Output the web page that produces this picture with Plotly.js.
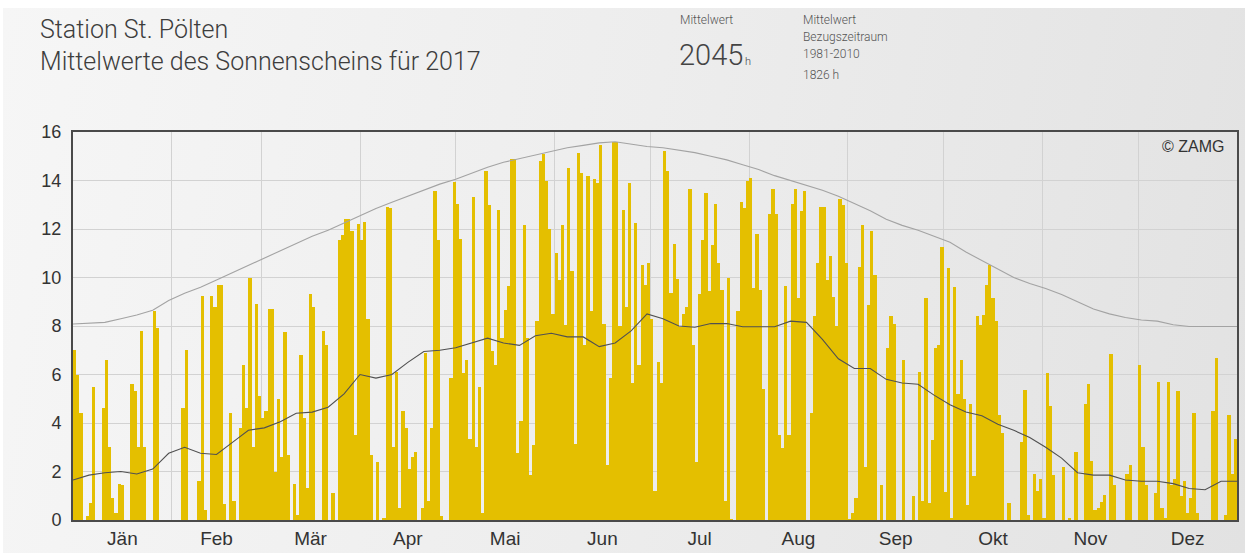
<!DOCTYPE html>
<html><head><meta charset="utf-8">
<script src="https://cdn.plot.ly/plotly-3.0.1.min.js"></script>
<style>
html,body{margin:0;padding:0;background:#fff;}
#wrap{position:absolute;left:0;top:0;width:1252px;height:553px;overflow:hidden;}
#bg{position:absolute;left:3px;top:8px;width:1242px;height:545px;background:linear-gradient(100deg,#f6f6f6 0%,#ededed 50%,#e2e2e2 100%);}
#chart{position:absolute;left:0;top:0;width:1252px;height:553px;}
#chart .trace.bars path{shape-rendering:crispEdges !important;}
</style></head><body>
<div id="wrap"><div id="bg"></div><div id="chart"></div></div>
<script>
const monthLabels = ['Jän','Feb','Mär','Apr','Mai','Jun','Jul','Aug','Sep','Okt','Nov','Dez'];
const monthLengths = [31,28,31,30,31,30,31,31,30,31,30,31];

const sunJan = [7.0,6.0,4.4,0,0.15,0.7,5.5,0,0,4.6,6.6,3.0,0.9,0.3,1.5,1.45,0,0,5.6,5.3,3.0,7.8,3.0,0,0,8.6,7.9,0,0,0,0];
const sunFeb = [0,0,0,4.6,7.0,0,0,0,1.6,9.25,0.4,0,9.25,8.8,9.7,9.7,0.65,0,4.4,0.8,0,3.8,6.4,4.6,10.0,3.0,8.9,5.1];
const sunMar = [4.2,4.5,8.7,8.7,2.0,5.0,2.6,7.75,2.7,0,1.5,0.2,6.8,4.2,1.3,9.3,8.8,0,0,7.8,7.2,0,1.1,0,11.55,11.75,12.4,12.4,11.9,3.5,12.2];
const sunApr = [11.55,12.3,8.3,2.7,0,2.4,0,0.1,12.9,12.85,3.0,6.1,0.5,4.5,3.8,2.1,2.6,2.8,0,0.5,6.9,0.8,3.8,13.55,11.55,0.15,0,0,5.85,13.95];
const sunMai = [13.05,11.6,6.05,6.6,3.35,13.3,3.0,5.5,0.3,14.4,13.0,6.95,6.4,12.8,7.5,8.65,9.65,14.9,14.9,2.75,4.1,12.15,7.5,1.85,3.1,8.2,14.8,15.1,14.0,12.0,8.5];
const sunJun = [11.0,9.9,12.15,8.05,14.5,10.25,3.15,15.15,14.3,7.2,14.2,8.6,14.05,13.9,15.45,8.1,2.25,5.85,15.6,15.6,8.0,12.8,8.8,13.9,5.65,12.25,6.4,10.5,9.7,10.6];
const sunJul = [8.3,1.2,6.5,5.65,15.2,14.4,9.35,11.4,9.95,7.95,8.5,8.8,13.65,7.2,2.4,9.3,11.55,13.5,9.45,11.35,13.05,10.6,9.5,0.8,10.0,0.05,0,8.6,13.1,12.85,14.0];
const sunAug = [14.1,9.55,11.8,9.5,5.4,0,12.6,13.65,12.6,3.5,2.95,9.65,3.5,13.05,13.65,9.15,12.75,13.55,0,4.4,8.4,10.6,12.9,12.9,9.9,10.9,9.2,8.0,13.25,13.0,10.6];
const sunSep = [0.05,0.3,0.9,10.45,12.15,2.2,8.85,11.9,10.1,0,1.45,0,7.1,8.4,8.1,0,0,6.6,0,0,1.0,0,6.1,0.8,9.15,0.7,3.3,7.1,7.2,11.25];
const sunOkt = [1.15,10.4,0.1,9.6,5.2,6.6,5.0,0.6,4.8,1.8,8.4,8.05,8.45,9.7,10.5,9.15,8.2,4.35,3.6,0,0.7,0,0,0,3.2,5.35,0.2,0,1.9,1.2,1.7];
const sunNov = [0.1,6.05,4.7,1.85,0,0,2.2,0,0.1,0,2.8,0,0,4.8,5.6,2.45,0.4,0.5,0.75,1.05,0,6.85,1.45,0,0,0,1.9,2.25,0,0];
const sunDez = [6.4,3.0,1.45,0,0,1.1,5.7,0.5,0.1,5.7,1.45,1.7,5.3,1.0,1.6,0.3,0.9,4.4,0.3,0,0,0,0,4.5,6.7,0,0,0.2,4.35,1.9,3.35];

// reference curves, read every 5 days (day-of-year position)
const refDays = [0,5,10,15,20,25,30,35,40,45,50,55,60,65,70,75,80,85,90,95,100,105,110,115,120,125,130,135,140,145,150,155,160,165,170,175,180,185,190,195,200,205,210,215,220,225,230,235,240,245,250,255,260,265,270,275,280,285,290,295,300,305,310,315,320,325,330,335,340,345,350,355,360,365];
const possibleHours = [8.08,8.1,8.15,8.3,8.45,8.65,9.05,9.35,9.6,9.9,10.2,10.5,10.8,11.1,11.4,11.7,11.95,12.25,12.55,12.85,13.1,13.35,13.6,13.85,14.05,14.3,14.55,14.75,14.9,15.05,15.2,15.35,15.45,15.55,15.6,15.5,15.4,15.35,15.25,15.15,15.0,14.85,14.65,14.45,14.2,14.0,13.8,13.6,13.35,13.05,12.75,12.4,12.15,11.95,11.7,11.45,11.05,10.7,10.35,10.0,9.75,9.55,9.3,9.0,8.7,8.5,8.35,8.25,8.2,8.05,7.98,7.98,7.98,7.98];
const meanHours = [1.65,1.85,1.95,2.0,1.9,2.1,2.75,3.0,2.75,2.7,3.2,3.7,3.8,4.05,4.4,4.45,4.65,5.2,6.0,5.85,6.0,6.5,6.95,7.0,7.1,7.3,7.5,7.3,7.2,7.6,7.7,7.55,7.55,7.15,7.3,7.8,8.5,8.3,8.0,7.95,8.1,8.1,7.97,7.97,7.97,8.2,8.15,7.45,6.65,6.25,6.25,5.8,5.65,5.6,5.15,4.75,4.45,4.3,3.95,3.7,3.4,3.0,2.55,1.95,1.85,1.85,1.65,1.6,1.6,1.5,1.3,1.25,1.6,1.6];

const yTicks = [0,2,4,6,8,10,12,14,16];

const sunshine = [].concat(sunJan,sunFeb,sunMar,sunApr,sunMai,sunJun,sunJul,sunAug,sunSep,sunOkt,sunNov,sunDez);
const dayX = sunshine.map((v,i)=>i+0.5);
const monthStarts = [0];
monthLengths.forEach((n,i)=>monthStarts.push(monthStarts[i]+n));
const monthMid = monthLengths.map((n,i)=>monthStarts[i]+n/2);

const L=73,R=1237,T=132,B=520;
const fx = px => (px-L)/(R-L);
const fy = py => (B-py)/(B-T);

const txtFont = 'Roboto, "Noto Sans", sans-serif';
function ann(text,x,y,size,color,opts){
  return Object.assign({text:text,xref:'paper',yref:'paper',x:fx(x),y:fy(y),xanchor:'left',yanchor:'middle',showarrow:false,
    font:{family:txtFont,size:size,color:color,weight:300}},opts||{});
}

const barColor = '#e4bf00';
const traces = [
  {type:'bar',x:dayX,y:sunshine,width:1,marker:{color:barColor,line:{width:0}},hoverinfo:'skip'},
  {type:'scatter',mode:'lines',x:refDays,y:possibleHours,line:{color:'#a3a3a3',width:1.1},hoverinfo:'skip'},
  {type:'scatter',mode:'lines',x:refDays,y:meanHours,line:{color:'#505050',width:1.1},hoverinfo:'skip'}
];

const layout = {
  width:1252,height:553,
  margin:{l:L,r:1252-R,t:T,b:553-B,pad:0,autoexpand:false},
  paper_bgcolor:'rgba(0,0,0,0)',plot_bgcolor:'rgba(0,0,0,0)',
  showlegend:false,bargap:0,hovermode:false,
  xaxis:{range:[0,365],tickmode:'array',tickvals:monthMid,ticktext:monthLabels,showgrid:false,ticks:'',
    showline:true,mirror:true,linecolor:'#4a4a4a',linewidth:2,zeroline:false,
    tickfont:{family:'Arial, "Liberation Sans", sans-serif',size:19,color:'#333'},
    minor:{tickmode:'array',tickvals:monthStarts,showgrid:true,gridcolor:'#d2d2d2',gridwidth:1,ticks:''},fixedrange:true},
  yaxis:{range:[0,16],tickmode:'array',tickvals:yTicks,showgrid:true,gridcolor:'#d2d2d2',gridwidth:1,zeroline:false,
    showline:true,mirror:true,linecolor:'#4a4a4a',linewidth:2,ticks:'',ticklabelstandoff:6,
    tickfont:{family:'Arial, "Liberation Sans", sans-serif',size:18,color:'#333'},fixedrange:true},
  annotations:[
    ann('Station St. Pölten',38,29,25,'#3d3d3d'),
    ann('Mittelwerte des Sonnenscheins für 2017',38,61,25,'#3d3d3d'),
    ann('Mittelwert',678,20,12,'#555'),
    ann('2045',677,55,29,'#444'),
    ann('h',743,61,11,'#444'),
    ann('Mittelwert',801,20,12,'#555'),
    ann('Bezugszeitraum',801,37,12,'#555'),
    ann('1981-2010',801,54,12,'#555'),
    ann('1826 h',801,75,12,'#555'),
    {text:'© ZAMG',xref:'paper',yref:'paper',x:fx(1226),y:fy(146),xanchor:'right',yanchor:'middle',showarrow:false,
      font:{family:'Arial, "Liberation Sans", sans-serif',size:16,color:'#333'}}
  ]
};

Plotly.newPlot('chart',traces,layout,{staticPlot:true,displayModeBar:false});
</script></body></html>
